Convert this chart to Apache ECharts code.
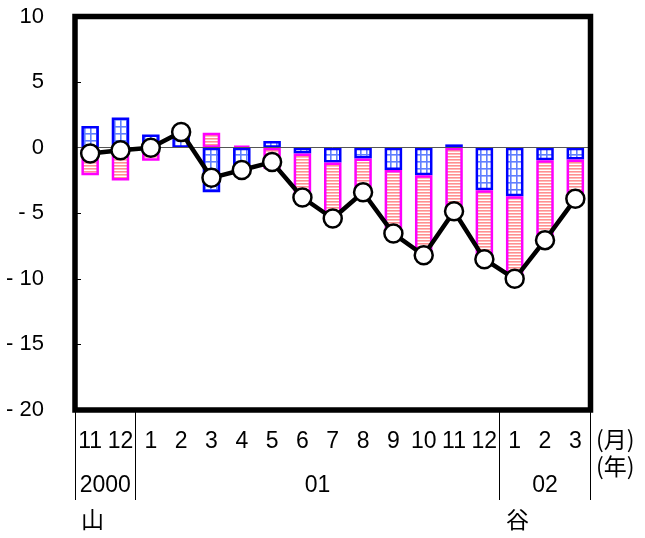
<!DOCTYPE html>
<html>
<head>
<meta charset="utf-8">
<script src="https://cdn.jsdelivr.net/npm/echarts@6/dist/echarts.min.js"></script>
<style>
  html, body { margin: 0; padding: 0; background: #fff; }
  #chart { width: 645px; height: 538px; }
</style>
</head>
<body>
<div id="chart"></div>
<script>
// Month categories (Nov 2000 – Mar 2002)
const months = ['11', '12', '1', '2', '3', '4', '5', '6', '7', '8', '9', '10', '11', '12', '1', '2', '3'];
// Year groups: [label, first category index, end index (exclusive)]
const yearSpans = [['2000', 0, 2], ['01', 2, 14], ['02', 14, 17]];
// Component contributions (stacked bars) and their total (line)
const blueValues = [1.65, 2.3, 1.0, 1.0, -3.4, -1.85, 0.5, -0.45, -1.13, -0.83, -1.7, -2.1, 0.25, -3.25, -3.7, -0.95, -0.9];
const pinkValues = [-2.1, -2.5, -1.0, 0.2, 1.13, 0.15, -1.6, -3.35, -4.27, -2.55, -4.85, -6.1, -5.1, -5.25, -6.3, -6.1, -3.0];
const totalValues = [-0.45, -0.2, 0, 1.2, -2.3, -1.7, -1.1, -3.8, -5.4, -3.4, -6.55, -8.2, -4.85, -8.5, -10.0, -7.05, -3.9];
// Y axis range
const yMin = -20, yMax = 10, yStep = 5;

// Fill patterns for the bars
function gridPattern() {
  const c = document.createElement('canvas');
  c.width = 6; c.height = 7;
  const g = c.getContext('2d');
  g.fillStyle = '#ffffff';
  g.fillRect(0, 0, 6, 7);
  g.fillStyle = '#6080ff';
  g.fillRect(0, 0, 6, 1.6);
  g.fillRect(0, 0, 1.6, 7);
  return c;
}
function stripePattern() {
  const c = document.createElement('canvas');
  c.width = 4; c.height = 3;
  const g = c.getContext('2d');
  g.fillStyle = '#ffffff';
  g.fillRect(0, 0, 4, 3);
  g.fillStyle = '#ff9090';
  g.fillRect(0, 0, 4, 1.6);
  return c;
}

const yearStarts = yearSpans.map(s => s[1]);
const yearCenters = {};
yearSpans.forEach(s => { yearCenters[(s[1] + s[2]) / 2] = s[0]; });

const font = 'Liberation Sans, Arial, sans-serif';
const cjk = 'Noto Sans CJK JP, sans-serif';

const chart = echarts.init(document.getElementById('chart'), null, { renderer: 'canvas' });
chart.setOption({
  animation: false,
  backgroundColor: '#ffffff',
  grid: {
    left: 75, right: 54.5, top: 16.5, bottom: 128,
    show: true, borderColor: '#000000', borderWidth: 5.5, backgroundColor: 'transparent',
    z: 10
  },
  xAxis: [
    {
      type: 'category', data: months, position: 'bottom',
      axisLine: { show: false }, axisTick: { show: false },
      axisLabel: { margin: 20, fontSize: 23, fontFamily: font, color: '#000', interval: 0 },
      splitLine: { show: false }
    },
    {
      type: 'category', data: months, position: 'bottom',
      axisLine: { show: false },
      axisTick: {
        show: true, length: 90, inside: false,
        interval: (idx) => yearStarts.indexOf(idx) >= 0,
        lineStyle: { color: '#000', width: 1 }
      },
      axisLabel: { show: false },
      splitLine: { show: false }
    },
    {
      type: 'value', min: 0, max: months.length, interval: 0.5, position: 'bottom',
      axisLine: { show: false }, axisTick: { show: false }, splitLine: { show: false },
      axisLabel: {
        margin: 64, fontSize: 23, fontFamily: font, color: '#000',
        showMinLabel: true, showMaxLabel: true,
        formatter: (v) => yearCenters[v] || ''
      }
    }
  ],
  yAxis: {
    type: 'value', min: yMin, max: yMax, interval: yStep,
    axisLine: { show: false },
    axisTick: { show: true, inside: true, length: 6, lineStyle: { color: '#000', width: 1 } },
    splitLine: { show: false },
    axisLabel: {
      margin: 31, fontSize: 22, fontFamily: font, color: '#000',
      formatter: (v) => (v < 0 ? '- ' + Math.abs(v) : String(v))
    }
  },
  series: [
    {
      name: 'blue', type: 'bar', stack: 'total', data: blueValues,
      xAxisIndex: 0, barWidth: 17.5,
      itemStyle: { color: { image: gridPattern(), repeat: 'repeat' }, borderColor: '#0000ff', borderWidth: 2.5 },
      markLine: {
        silent: true, symbol: 'none', label: { show: false },
        lineStyle: { color: '#555555', width: 1, type: 'solid' },
        data: [{ yAxis: 0 }]
      }
    },
    {
      name: 'pink', type: 'bar', stack: 'total', data: pinkValues,
      xAxisIndex: 0, barWidth: 17.5,
      itemStyle: { color: { image: stripePattern(), repeat: 'repeat' }, borderColor: '#ff00ff', borderWidth: 2.5 }
    },
    {
      name: 'total', type: 'line', data: totalValues, xAxisIndex: 0, z: 5,
      symbol: 'circle', symbolSize: 18,
      lineStyle: { color: '#000', width: 4.5 },
      itemStyle: { color: '#ffffff', borderColor: '#000000', borderWidth: 2.5 }
    }
  ],
  graphic: [
    { type: 'text', left: 596, top: 428, style: { text: '(月)', font: '23px ' + cjk, fill: '#000' } },
    { type: 'text', left: 596, top: 455, style: { text: '(年)', font: '23px ' + cjk, fill: '#000' } },
    { type: 'text', left: 81, top: 508, style: { text: '山', font: '23px ' + cjk, fill: '#000' } },
    { type: 'text', left: 506, top: 508, style: { text: '谷', font: '23px ' + cjk, fill: '#000' } }
  ]
});
</script>
</body>
</html>
